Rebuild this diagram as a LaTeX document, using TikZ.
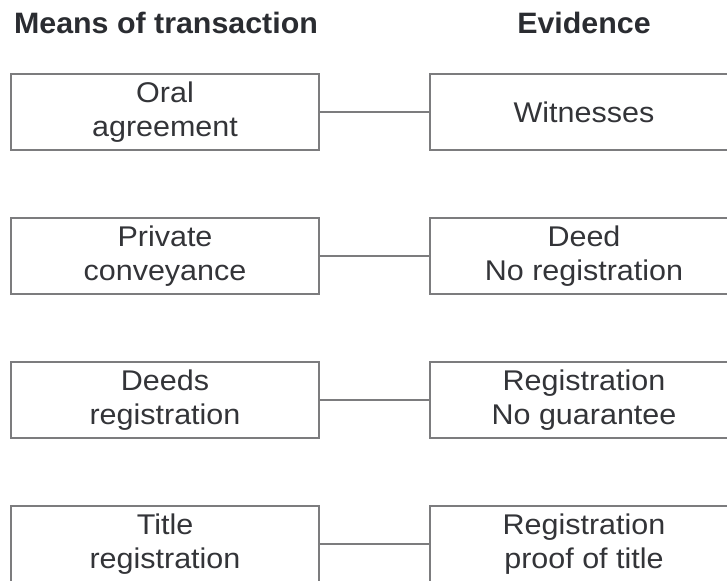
\documentclass[tikz,border=0pt]{standalone}
\usepackage{fontspec}
\setmainfont{Liberation Sans}
\newfontfamily\cellfont[FakeStretch=1.07]{Liberation Sans}
\newfontfamily\headfont[FakeStretch=1.03]{Liberation Sans Bold}
\definecolor{boxline}{HTML}{7C7C7E}
\definecolor{txt}{HTML}{333438}
\definecolor{head}{HTML}{2A2C31}
\begin{document}
\begin{tikzpicture}[x=1pt,y=-1pt,
  cell/.style={draw=boxline,line width=1.6pt,minimum width=308pt,minimum height=76pt,
    inner sep=0pt,align=center,text=txt,font=\cellfont\fontsize{28.5}{33.5}\selectfont},
  header/.style={inner sep=0pt,text=head,font=\headfont\fontsize{29.5}{34}\selectfont},
  link/.style={draw=boxline,line width=1.6pt}]
\useasboundingbox (0,0) rectangle (727,580);
\node[header] (h1) at (166,23) {Means of transaction};
\node[header] (h2) at (584,23) {Evidence};
\node[cell] (l1) at (165,112) {Oral\\agreement};
\node[cell] (r1) at (584,112) {Witnesses};
\node[cell] (l2) at (165,256) {Private\\conveyance};
\node[cell] (r2) at (584,256) {Deed\\No registration};
\node[cell] (l3) at (165,400) {Deeds\\registration};
\node[cell] (r3) at (584,400) {Registration\\No guarantee};
\node[cell] (l4) at (165,544) {Title\\registration};
\node[cell] (r4) at (584,544) {Registration\\proof of title};
\foreach \i in {1,2,3,4} \draw[link] (l\i.east) -- (r\i.west);
\end{tikzpicture}
\end{document}
